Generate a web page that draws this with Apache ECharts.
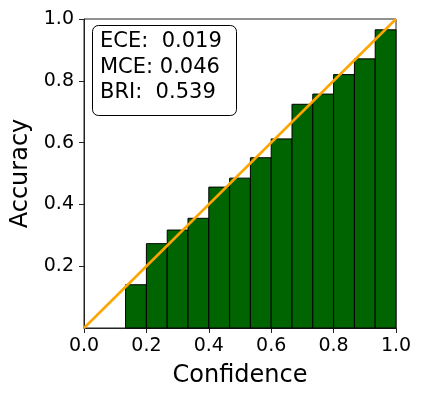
<!DOCTYPE html>
<html><head><meta charset="utf-8">
<script src="https://cdn.jsdelivr.net/npm/echarts@6/dist/echarts.min.js"></script>
<style>html,body{margin:0;padding:0;background:#fff}#c{width:423px;height:399px}</style>
</head><body><div id="c"></div>
<script>
const binStart = [0.1333,0.2,0.2667,0.3333,0.4,0.4667,0.5333,0.6,0.6667,0.7333,0.8,0.8667,0.9333];
const binEnd   = [0.2,0.2667,0.3333,0.4,0.4667,0.5333,0.6,0.6667,0.7333,0.8,0.8667,0.9333,1.0];
const accuracy = [0.140,0.273,0.317,0.355,0.456,0.485,0.551,0.612,0.724,0.757,0.820,0.871,0.965];
const diagX = [0,1];
const diagY = [0,1];
const xTicks = [0,0.2,0.4,0.6,0.8,1.0];
const yTicks = [0.2,0.4,0.6,0.8,1.0];
const statLines = ['ECE:  0.019','MCE: 0.046','BRI:  0.539'];

const FONT = 'DejaVu Sans';
const chart = echarts.init(document.getElementById('c'), null, {renderer:'canvas'});
const barData = binStart.map((s,i)=>[s, binEnd[i], accuracy[i]]);
const axisCommon = {
  min:0, max:1, interval:0.2,
  axisLine:{show:true, onZero:false, lineStyle:{color:'#222', width:1}},
  axisTick:{show:true, inside:false, length:5, lineStyle:{color:'#222', width:1}},
  splitLine:{show:false},
  nameTextStyle:{fontFamily:FONT, fontSize:24, color:'#000'}
};
chart.setOption({
  animation:false,
  grid:{left:84, right:27, top:19, bottom:71, show:true, borderColor:'#222', borderWidth:1, backgroundColor:'transparent'},
  xAxis:Object.assign({}, axisCommon, {
    type:'value', name:'Confidence', nameLocation:'middle', nameGap:36,
    axisTick:Object.assign({}, axisCommon.axisTick, {customValues:xTicks}),
    axisLabel:{customValues:xTicks, margin:9, fontFamily:FONT, fontSize:19, color:'#000', formatter:v=>v.toFixed(1)}
  }),
  yAxis:Object.assign({}, axisCommon, {
    type:'value', name:'Accuracy', nameLocation:'middle', nameGap:50,
    axisTick:Object.assign({}, axisCommon.axisTick, {customValues:yTicks}),
    axisLabel:{customValues:yTicks, margin:10, fontFamily:FONT, fontSize:19, color:'#000', formatter:v=>v.toFixed(1)}
  }),
  series:[
    {
      type:'custom', data:barData, z:2,
      renderItem:(params, api)=>{
        const p0 = api.coord([api.value(0), api.value(2)]);
        const p1 = api.coord([api.value(1), 0]);
        return {type:'rect', shape:{x:p0[0], y:p0[1], width:p1[0]-p0[0], height:p1[1]-p0[1]},
          style:{fill:'#006400', stroke:'#000', lineWidth:1}};
      }
    },
    {
      type:'line', data:diagX.map((x,i)=>[x, diagY[i]]), z:5, symbol:'none',
      lineStyle:{color:'#FFA500', width:2.5}, silent:true
    }
  ],
  graphic:[{
    type:'rect', left:92, top:25, z:10,
    shape:{width:144, height:90, r:6},
    style:{fill:'#fff', stroke:'#000', lineWidth:1}
  },{
    type:'text', left:100, top:29, z:11,
    style:{text:statLines.join('\n'), font:'21px "DejaVu Sans"', lineHeight:25.5, fill:'#000'}
  }]
});
</script></body></html>
